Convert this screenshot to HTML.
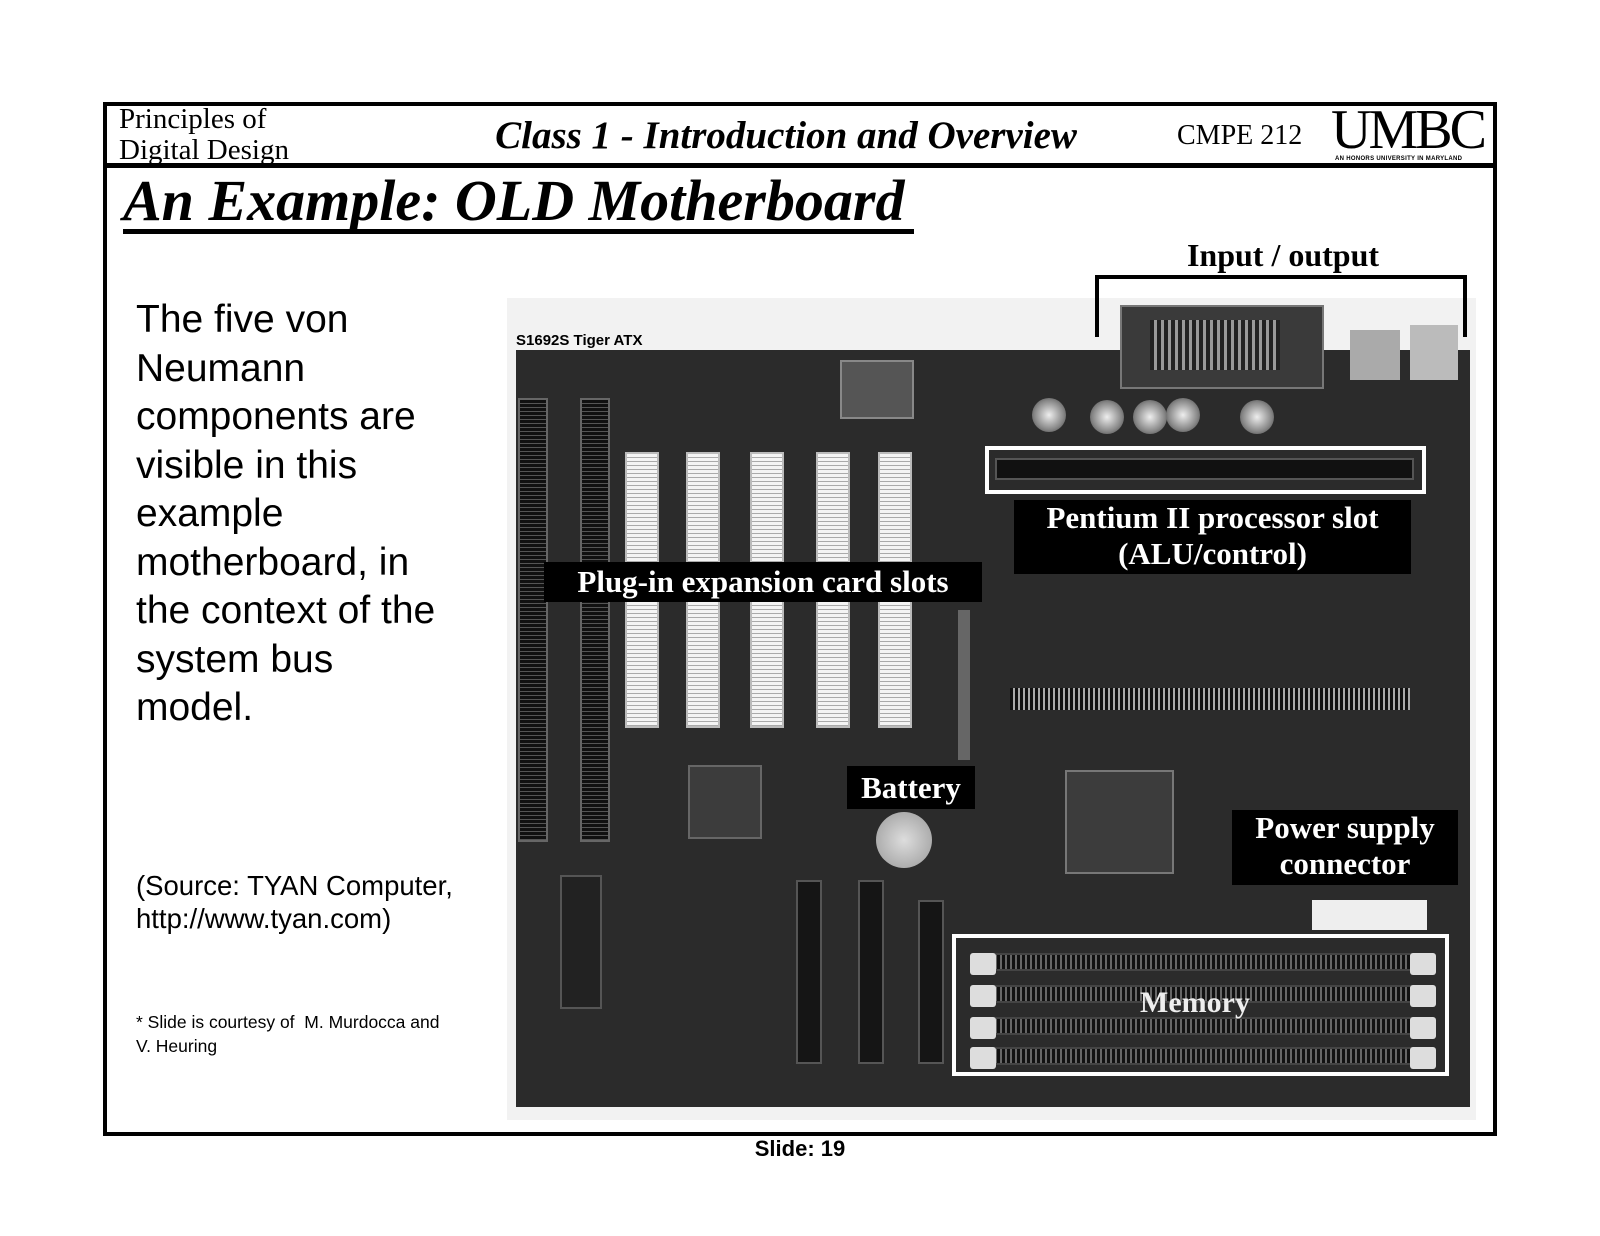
<!DOCTYPE html>
<html><head><meta charset="utf-8"><style>
body{margin:0;width:1600px;height:1236px;background:#fff;position:relative;overflow:hidden;font-family:"Liberation Sans",sans-serif}
.a{position:absolute}
.serif{font-family:"Liberation Serif",serif}
.lbl{position:absolute;background:#000;color:#fff;font-family:"Liberation Serif",serif;font-weight:bold;font-size:31px;text-align:center;line-height:36px;white-space:nowrap}
.pci{position:absolute;border:2px solid #bbb;width:30px;top:452px;height:272px;background:repeating-linear-gradient(#f4f4f4 0 3px,#aaa 3px 4px)}
.isa{position:absolute;width:26px;top:398px;height:440px;background:repeating-linear-gradient(#111 0 3px,#555 3px 4px);border:2px solid #666}
.cap{position:absolute;width:34px;height:34px;border-radius:50%;background:radial-gradient(#eee,#888 60%,#333)}
.dimm{position:absolute;left:980px;width:440px;height:14px;background:repeating-linear-gradient(90deg,#111 0 3px,#666 3px 5px);border:2px solid #444}
.clip{position:absolute;width:26px;height:22px;background:#ddd;border-radius:3px}
</style></head><body>
<div class="a" style="left:103px;top:102px;width:1386px;height:1026px;border:4px solid #000"></div>
<div class="a" style="left:103px;top:163px;width:1390px;height:5px;background:#000"></div>
<div class="a serif" style="left:119px;top:104px;font-size:29px;line-height:31px">Principles of<br>Digital Design</div>
<div class="a serif" style="left:420px;top:113px;width:732px;text-align:center;font-size:39px;font-weight:bold;font-style:italic">Class 1 - Introduction and Overview</div>
<div class="a serif" style="left:1177px;top:120px;font-size:28px">CMPE 212</div>
<div class="a serif" style="left:1331px;top:100px;font-size:56px;letter-spacing:-3px;line-height:60px">UMBC</div>
<div class="a" style="left:1335px;top:156px;font-size:6px;font-weight:bold;letter-spacing:.3px">AN HONORS UNIVERSITY IN MARYLAND</div>
<div class="a serif" style="left:123px;top:169px;font-size:58px;font-weight:bold;font-style:italic;line-height:64px">An Example: OLD Motherboard</div>
<div class="a" style="left:123px;top:229px;width:791px;height:5px;background:#000"></div>
<div class="a" style="left:136px;top:296px;font-size:39px;line-height:48.5px">The five von<br>Neumann<br>components are<br>visible in this<br>example<br>motherboard, in<br>the context of the<br>system bus<br>model.</div>
<div class="a" style="left:136px;top:869px;font-size:27.5px;line-height:33px">(Source: TYAN Computer,<br>http://www.tyan.com)</div>
<div class="a" style="left:136px;top:1010px;font-size:17.5px;line-height:24px">* Slide is courtesy of&nbsp; M. Murdocca and<br>V. Heuring</div>
<div class="a" style="left:700px;top:1136px;width:200px;text-align:center;font-size:22px;font-weight:bold">Slide: 19</div>
<div class="a" style="left:507px;top:298px;width:969px;height:822px;background:#f2f2f2"></div>
<div class="a" style="left:516px;top:332px;font-size:15px;font-weight:bold">S1692S Tiger ATX</div>
<div class="a" style="left:516px;top:350px;width:954px;height:757px;background:#2b2b2b"></div>
<div class="a" style="left:1120px;top:305px;width:200px;height:80px;background:#3a3a3a;border:2px solid #777"></div>
<div class="a" style="left:1150px;top:320px;width:130px;height:50px;background:repeating-linear-gradient(90deg,#222 0 4px,#999 4px 7px)"></div>
<div class="a" style="left:1350px;top:330px;width:50px;height:50px;background:#aaa"></div>
<div class="a" style="left:1410px;top:325px;width:48px;height:55px;background:#bbb"></div>
<div class="a" style="left:840px;top:360px;width:70px;height:55px;background:#555;border:2px solid #888"></div>
<div class="cap" style="left:1032px;top:398px"></div><div class="cap" style="left:1090px;top:400px"></div>
<div class="cap" style="left:1133px;top:400px"></div><div class="cap" style="left:1166px;top:398px"></div>
<div class="cap" style="left:1240px;top:400px"></div>
<div class="isa" style="left:518px"></div><div class="isa" style="left:580px"></div>
<div class="pci" style="left:625px"></div><div class="pci" style="left:686px"></div><div class="pci" style="left:750px"></div><div class="pci" style="left:816px"></div><div class="pci" style="left:878px"></div>
<div class="a" style="left:958px;top:610px;width:12px;height:150px;background:#666"></div>
<div class="a" style="left:1010px;top:688px;width:400px;height:22px;background:repeating-linear-gradient(90deg,#111 0 3px,#aaa 3px 5px)"></div>
<div class="a" style="left:1065px;top:770px;width:105px;height:100px;background:#3c3c3c;border:2px solid #777"></div>
<div class="a" style="left:688px;top:765px;width:70px;height:70px;background:#3c3c3c;border:2px solid #666"></div>
<div class="a" style="left:876px;top:812px;width:56px;height:56px;border-radius:50%;background:radial-gradient(#ddd,#999)"></div>
<div class="a" style="left:1312px;top:900px;width:115px;height:30px;background:#eee"></div>
<div class="a" style="left:560px;top:875px;width:38px;height:130px;background:#222;border:2px solid #555"></div>
<div class="a" style="left:796px;top:880px;width:22px;height:180px;background:#151515;border:2px solid #555"></div>
<div class="a" style="left:858px;top:880px;width:22px;height:180px;background:#151515;border:2px solid #555"></div>
<div class="a" style="left:918px;top:900px;width:22px;height:160px;background:#151515;border:2px solid #555"></div>
<div class="a" style="left:985px;top:446px;width:433px;height:40px;border:4px solid #fff"></div>
<div class="a" style="left:995px;top:458px;width:415px;height:18px;background:#111;border:2px solid #555"></div>
<div class="a" style="left:952px;top:934px;width:489px;height:134px;border:4px solid #fff"></div>
<div class="dimm" style="top:953px"></div><div class="dimm" style="top:985px"></div><div class="dimm" style="top:1017px"></div><div class="dimm" style="top:1047px"></div>
<div class="clip" style="left:970px;top:953px"></div><div class="clip" style="left:970px;top:985px"></div><div class="clip" style="left:970px;top:1017px"></div><div class="clip" style="left:970px;top:1047px"></div>
<div class="clip" style="left:1410px;top:953px"></div><div class="clip" style="left:1410px;top:985px"></div><div class="clip" style="left:1410px;top:1017px"></div><div class="clip" style="left:1410px;top:1047px"></div>
<div class="a serif" style="left:1095px;top:986px;width:200px;text-align:center;color:#eee;font-weight:bold;font-size:30px">Memory</div>
<div class="a serif" style="left:1130px;top:237px;width:306px;text-align:center;font-weight:bold;font-size:32px">Input / output</div>
<div class="a" style="left:1095px;top:275px;width:372px;height:62px;border:4px solid #000;border-bottom:none;box-sizing:border-box"></div>
<div class="lbl" style="left:1014px;top:500px;width:397px;height:74px">Pentium II processor slot<br>(ALU/control)</div>
<div class="lbl" style="left:544px;top:562px;width:438px;height:40px;line-height:40px">Plug-in expansion card slots</div>
<div class="lbl" style="left:847px;top:766px;width:128px;height:43px;line-height:43px">Battery</div>
<div class="lbl" style="left:1232px;top:810px;width:226px;height:75px">Power supply<br>connector</div>
</body></html>
